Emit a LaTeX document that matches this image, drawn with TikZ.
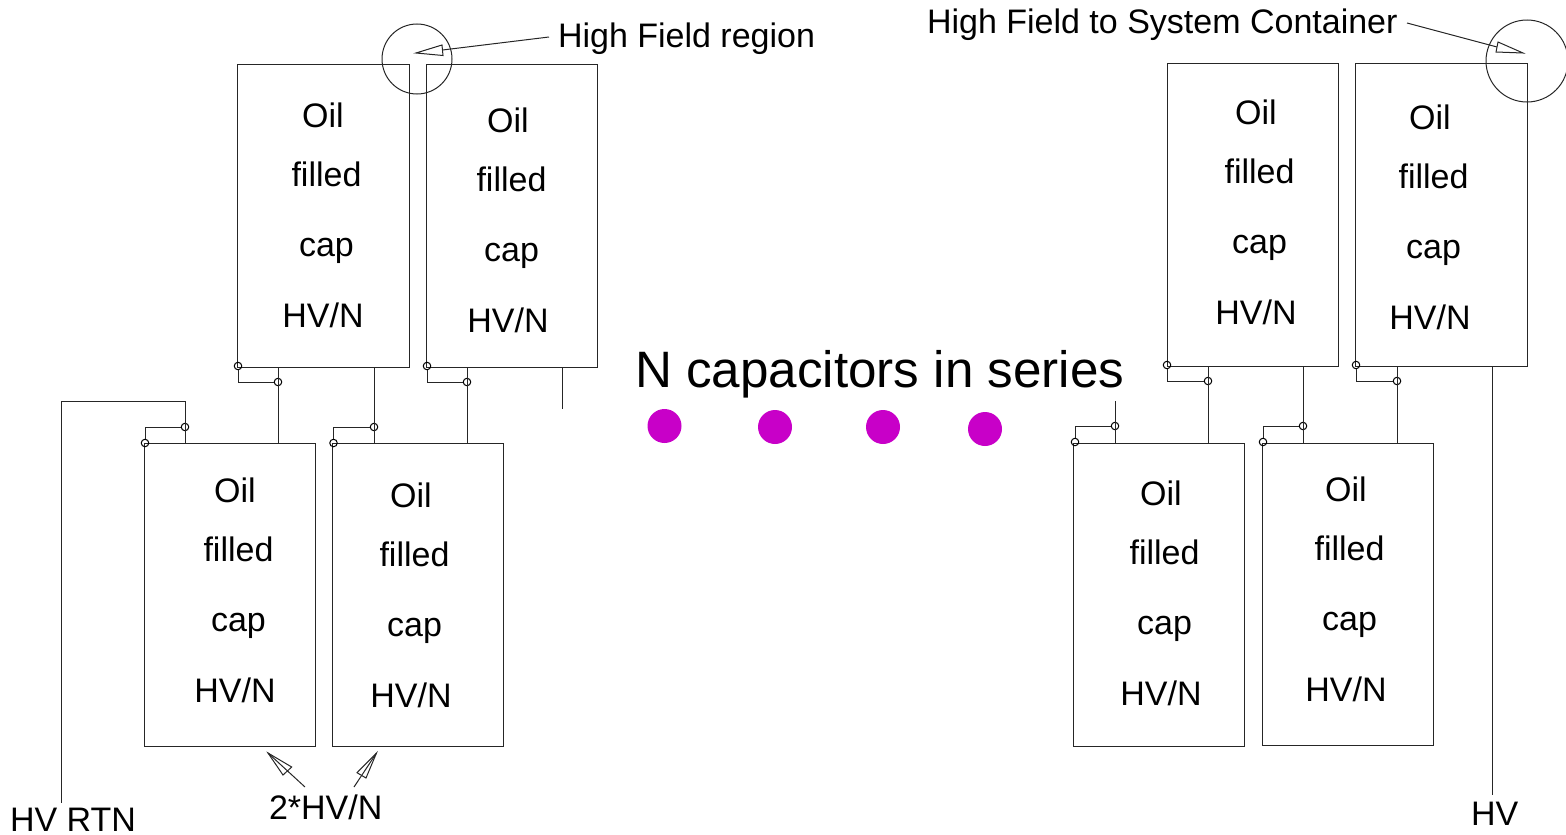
\documentclass[tikz,border=0pt]{standalone}
\usepackage{fontspec}
\setmainfont{Liberation Sans}
\definecolor{dotmag}{RGB}{200,0,200}
\tikzset{
  wire/.style={draw=black!85,line width=1pt},
  capbox/.style={draw=black!85,line width=1pt,rectangle,anchor=north west,inner sep=0pt,outer sep=0pt},
  term/.style={draw=black,line width=1pt,circle,minimum size=7.5pt,inner sep=0pt,outer sep=0pt},
  lbl/.style={anchor=base,inner sep=0pt,outer sep=0pt,font=\fontsize{34}{40}\selectfont},
  lblw/.style={anchor=base west,inner sep=0pt,outer sep=0pt,font=\fontsize{34}{40}\selectfont},
  bigtitle/.style={anchor=base west,inner sep=0pt,outer sep=0pt,font=\fontsize{51.2}{60}\selectfont},
  zone/.style={draw=black!85,line width=1pt,circle,inner sep=0pt,outer sep=0pt},
  pdot/.style={fill=dotmag,circle,minimum size=34pt,inner sep=0pt,outer sep=0pt},
  tipshape/.style={draw=black!85,line width=1pt,fill=none,line join=miter},
  thin wire/.style={draw=black!85,line width=1pt}
}
\newcommand{\capstack}[3]{%
  \node[lbl] (#1-oil) at (#2,#3+12) {Oil};
  \node[lbl] (#1-fil) at (#2+3.5,#3+71.5) {filled};
  \node[lbl] (#1-cap) at (#2+3.5,#3+141) {cap};
  \node[lbl] (#1-hv) at (#2,#3+212.5) {HV/N};
}
\begin{document}
\begin{tikzpicture}[x=1pt,y=-1pt]
\useasboundingbox (0,0) rectangle (1566,835);
% capacitors
\node[capbox,minimum width=171.5pt,minimum height=303pt] (A) at (237.5,64) {};
\node[capbox,minimum width=171.5pt,minimum height=303pt] (B) at (426,64) {};
\node[capbox,minimum width=171.5pt,minimum height=303pt] (C) at (144,443) {};
\node[capbox,minimum width=171.5pt,minimum height=303pt] (D) at (332,443) {};
\node[capbox,minimum width=171.5pt,minimum height=303pt] (E) at (1167,63) {};
\node[capbox,minimum width=171.5pt,minimum height=303pt] (F) at (1355.5,63) {};
\node[capbox,minimum width=171.5pt,minimum height=303pt] (G) at (1073,443) {};
\node[capbox,minimum width=171.5pt,minimum height=302.5pt] (H) at (1262,443) {};
\capstack{A}{323}{115}
\capstack{B}{508}{120}
\capstack{C}{235}{490}
\capstack{D}{411}{495}
\capstack{E}{1256}{112}
\capstack{F}{1430}{117}
\capstack{G}{1161}{493}
\capstack{H}{1346}{489}
% terminals
\node[term] (a1) at (238,366) {};
\node[term] (a2) at (278,382) {};
\node[term] (b1) at (427,366) {};
\node[term] (b2) at (467,382) {};
\node[term] (c1) at (145,443) {};
\node[term] (c2) at (185,427) {};
\node[term] (d1) at (333.5,443) {};
\node[term] (d2) at (374,427) {};
\node[term] (e1) at (1167,365) {};
\node[term] (e2) at (1208,381) {};
\node[term] (f1) at (1356,365) {};
\node[term] (f2) at (1397,381) {};
\node[term] (g1) at (1075,442) {};
\node[term] (g2) at (1115,426) {};
\node[term] (h1) at (1263,442) {};
\node[term] (h2) at (1303,426) {};
\foreach \p/\q in {a1/a2,b1/b2,c1/c2,d1/d2,e1/e2,f1/f2,g1/g2,h1/h2}
  \draw[wire] (\p) |- (\q);
% series links
\draw[wire] (A.south -| a2) -- (C.north -| a2);
\draw[wire] (B.south -| b2) -- (D.north -| b2);
\draw[wire] (A.south -| d2) -- (D.north -| d2);
\draw[wire] (E.south -| e2) -- (G.north -| e2);
\draw[wire] (E.south -| h2) -- (H.north -| h2);
\draw[wire] (F.south -| f2) -- (H.north -| f2);
% free ends
\coordinate (rtnup) at (185,401);
\coordinate (rtnleft) at (61,401);
\coordinate (rtnend) at (61,803);
\coordinate (bfree) at (562,409);
\coordinate (gfree) at (1115,401);
\coordinate (hvend) at (1492,795);
\draw[wire] (C.north -| c2) -- (rtnup) -- (rtnleft) -- (rtnend);
\draw[wire] (B.south -| bfree) -- (bfree);
\draw[wire] (G.north -| g2) -- (gfree);
\draw[wire] (F.south -| hvend) -- (hvend);
% dots
\node[pdot] (p1) at (664.5,426) {};
\node[pdot] (p2) at (775,427) {};
\node[pdot] (p3) at (883,427) {};
\node[pdot] (p4) at (985,429) {};
% labels
\node[lblw] (t1) at (558,47.5) {High Field region};
\node[lblw] (t2) at (927,33) {High Field to System Container};
\node[bigtitle] (t3) at (635,387) {N capacitors in series};
\node[lblw] (t4) at (10,831) {HV RTN};
\node[lblw] (t5) at (269,819) {2*HV/N};
\node[lblw] (t6) at (1471,825) {HV};
% high-field circles
\node[zone,minimum size=70pt] (z1) at (417,59) {};
\node[zone,minimum size=82pt] (z2) at (1527,61) {};
% leaders
\coordinate (l1a) at (549,37); \coordinate (l1b) at (442.5,50);
\coordinate (l1t) at (416,53); \coordinate (l1u) at (442,45); \coordinate (l1v) at (443,55.5);
\draw[thin wire] (l1a) -- (l1b);
\draw[tipshape] (l1t) -- (l1u) -- (l1v) -- cycle;
\coordinate (l2a) at (1407,23); \coordinate (l2b) at (1497,47);
\coordinate (l2t) at (1523,53); \coordinate (l2u) at (1498,42); \coordinate (l2v) at (1496,52);
\draw[thin wire] (l2a) -- (l2b);
\draw[tipshape] (l2t) -- (l2u) -- (l2v) -- cycle;
\coordinate (l3a) at (305,787); \coordinate (l3t) at (268,753);
\coordinate (l3u) at (291.7,767); \coordinate (l3v) at (283,775);
\draw[thin wire] (l3a) -- (l3t);
\draw[tipshape] (l3t) -- (l3u) -- (l3v) -- cycle;
\coordinate (l4a) at (354,787); \coordinate (l4t) at (376.5,753);
\coordinate (l4u) at (357,772.7); \coordinate (l4v) at (366,778);
\draw[thin wire] (l4a) -- (l4t);
\draw[tipshape] (l4t) -- (l4u) -- (l4v) -- cycle;
\end{tikzpicture}
\end{document}
